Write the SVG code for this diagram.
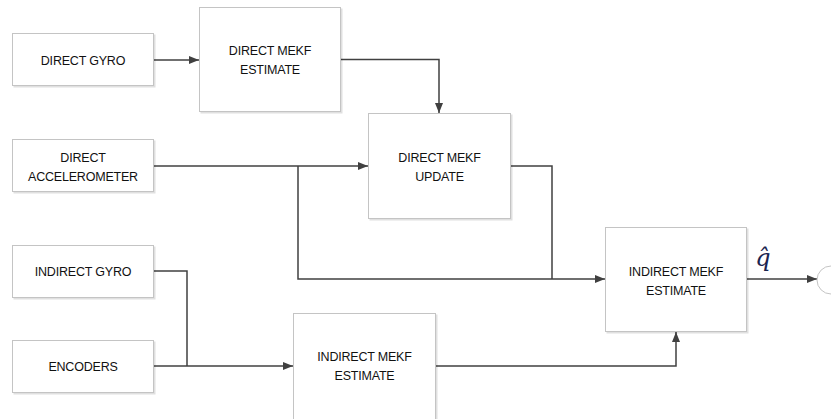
<svg xmlns="http://www.w3.org/2000/svg" width="831" height="419" viewBox="0 0 831 419">
<defs>
<marker id="arr" markerWidth="10" markerHeight="8" refX="10" refY="4" orient="auto" markerUnits="userSpaceOnUse">
<path d="M0,0 L10,4 L0,8 Z" fill="#404040"/>
</marker>
<filter id="sh" x="-5%" y="-5%" width="115%" height="115%">
<feDropShadow dx="1.5" dy="1.5" stdDeviation="0.6" flood-color="#000" flood-opacity="0.12"/>
</filter>
</defs>
<style>
.box{fill:#fff;stroke:#c4c4c4;stroke-width:1;filter:url(#sh)}
.lbl{font-family:"Liberation Sans",Arial,sans-serif;font-size:12.5px;fill:#111;text-anchor:middle;letter-spacing:-0.2px}
.con{fill:none;stroke:#404040;stroke-width:1.5}
</style>
<rect width="831" height="419" fill="#fff"/>
<g id="connectors">
<path class="con" d="M153,60 H199" marker-end="url(#arr)"/>
<path class="con" d="M340,59.5 H439 V113" marker-end="url(#arr)"/>
<path class="con" d="M153,166 H368" marker-end="url(#arr)"/>
<path class="con" d="M298,166 V279 H605" marker-end="url(#arr)"/>
<path class="con" d="M511,166 H552 V279"/>
<path class="con" d="M153,271 H187 V366"/>
<path class="con" d="M153,366 H293" marker-end="url(#arr)"/>
<path class="con" d="M436,366 H676 V332" marker-end="url(#arr)"/>
<path class="con" d="M747,279 H817" marker-end="url(#arr)"/>
</g>
<g id="direct-gyro">
<rect class="box" x="12.5" y="33.5" width="141" height="52"/>
<text class="lbl" x="83" y="64.5">DIRECT GYRO</text>
</g>
<g id="direct-mekf-estimate">
<rect class="box" x="199.5" y="7.5" width="141" height="104"/>
<text class="lbl" x="270" y="54.5">DIRECT MEKF</text>
<text class="lbl" x="270" y="73.5">ESTIMATE</text>
</g>
<g id="direct-accelerometer">
<rect class="box" x="12.5" y="139.5" width="141" height="52"/>
<text class="lbl" x="83" y="161.5">DIRECT</text>
<text class="lbl" x="83" y="180.5">ACCELEROMETER</text>
</g>
<g id="direct-mekf-update">
<rect class="box" x="368.5" y="113.5" width="142" height="105"/>
<text class="lbl" x="439.5" y="162">DIRECT MEKF</text>
<text class="lbl" x="439.5" y="180.5">UPDATE</text>
</g>
<g id="indirect-gyro">
<rect class="box" x="12.5" y="245.5" width="141" height="52"/>
<text class="lbl" x="83" y="276">INDIRECT GYRO</text>
</g>
<g id="encoders">
<rect class="box" x="12.5" y="340.5" width="141" height="52"/>
<text class="lbl" x="83" y="371">ENCODERS</text>
</g>
<g id="indirect-mekf-estimate-bottom">
<rect class="box" x="293.5" y="313.5" width="142" height="108"/>
<text class="lbl" x="364.5" y="361">INDIRECT MEKF</text>
<text class="lbl" x="364.5" y="380">ESTIMATE</text>
</g>
<g id="indirect-mekf-estimate-right">
<rect class="box" x="605.5" y="227.5" width="141" height="104"/>
<text class="lbl" x="676" y="276">INDIRECT MEKF</text>
<text class="lbl" x="676" y="294.5">ESTIMATE</text>
</g>
<g id="output">
<circle cx="831" cy="280" r="14" fill="#fff" stroke="#c4c4c4" stroke-width="1"/>
<text x="763" y="266" font-family="'DejaVu Serif','Liberation Serif',serif" font-style="italic" font-size="24" fill="#1a2450" text-anchor="middle">q̂</text>
</g>
</svg>
